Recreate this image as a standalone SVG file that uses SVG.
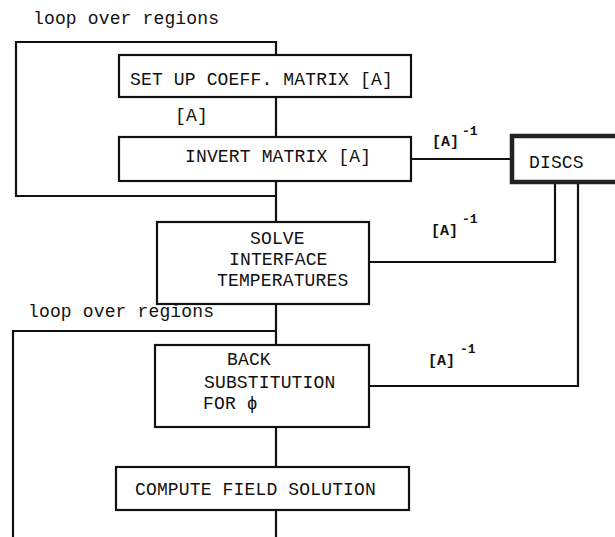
<svg xmlns="http://www.w3.org/2000/svg" width="615" height="537" viewBox="0 0 615 537">
<style>
.box{fill:#fff;stroke:#111;stroke-width:2.2}
.disc{fill:#fff;stroke:#222;stroke-width:4.5}
.ln{fill:none;stroke:#111;stroke-width:2.2}
.t{font-family:"Liberation Mono","Courier New",monospace;font-size:18px;fill:#111;letter-spacing:0.15px}
.l{font-family:"Liberation Mono","Courier New",monospace;font-size:15px;fill:#111;font-weight:bold}
.s{font-family:"Liberation Mono","Courier New",monospace;font-size:13px;fill:#111;font-weight:bold}
</style>
<rect width="615" height="537" fill="#fff"/>
<g id="connectors">
<path class="ln" d="M276 55 V42 H16 V196 H276"/>
<path class="ln" d="M276 97 V137"/>
<path class="ln" d="M276 181 V222"/>
<path class="ln" d="M276 304 V345"/>
<path class="ln" d="M276 331 H13 V537"/>
<path class="ln" d="M276 427 V467"/>
<path class="ln" d="M276 510 V537"/>
<path class="ln" d="M411 159 H512"/>
<path class="ln" d="M555 182 V262 H369"/>
<path class="ln" d="M578 182 V386 H369"/>
<text class="t" x="175" y="121">[A]</text>
<text class="l" x="432" y="146">[A]</text><text class="s" x="462" y="135">-1</text>
<text class="l" x="431" y="235">[A]</text><text class="s" x="462" y="223">-1</text>
<text class="l" x="428" y="365">[A]</text><text class="s" x="460" y="353">-1</text>
<text class="t" x="33" y="24">loop over regions</text>
<text class="t" x="28" y="317">loop over regions</text>
</g>
<g id="setup">
<rect class="box" x="119" y="55" width="292" height="42"/>
<text class="t" x="130" y="85">SET UP COEFF. MATRIX [A]</text>
</g>
<g id="invert">
<rect class="box" x="119" y="137" width="292" height="44"/>
<text class="t" x="185" y="162">INVERT MATRIX [A]</text>
</g>
<g id="discs">
<rect class="disc" x="512" y="136" width="110" height="46"/>
<text class="t" x="529" y="168">DISCS</text>
</g>
<g id="solve">
<rect class="box" x="157" y="222" width="212" height="82"/>
<text class="t" x="250" y="244">SOLVE</text>
<text class="t" x="229" y="265">INTERFACE</text>
<text class="t" x="217" y="286">TEMPERATURES</text>
</g>
<g id="back">
<rect class="box" x="155" y="345" width="214" height="82"/>
<text class="t" x="227" y="365">BACK</text>
<text class="t" x="204" y="388">SUBSTITUTION</text>
<text class="t" x="203" y="409">FOR ϕ</text>
</g>
<g id="compute">
<rect class="box" x="116" y="467" width="293" height="43"/>
<text class="t" x="135" y="495">COMPUTE FIELD SOLUTION</text>
</g>
</svg>
